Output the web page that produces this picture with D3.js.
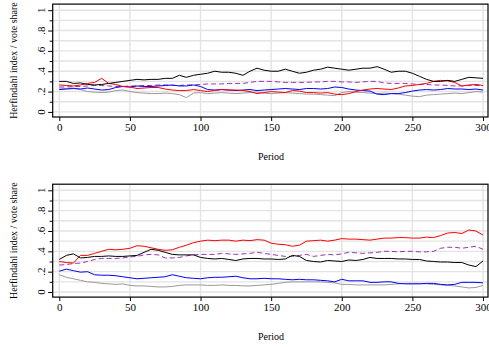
<!DOCTYPE html>
<html><head><meta charset="utf-8">
<script src="https://cdn.jsdelivr.net/npm/d3@7"></script>
<style>body{margin:0;background:#fff}svg{display:block}</style>
</head><body>
<svg id="c" width="489" height="347"></svg>
<script>
const periods = d3.range(0, 301, 5);
const yTickLabels = ["0", ".2", ".4", ".6", ".8", "1"];
const xTicks = [0, 50, 100, 150, 200, 250, 300];
const yTitle = "Herfindahl index / vote share";
const xTitle = "Period";

// Top panel
const topBlack = [.30,.30,.28,.285,.27,.265,.27,.28,.29,.30,.31,.32,.315,.32,.32,.33,.33,.36,.34,.36,.37,.38,.40,.39,.39,.38,.36,.40,.43,.41,.40,.40,.42,.40,.38,.39,.41,.42,.44,.43,.42,.41,.42,.43,.43,.445,.42,.39,.40,.40,.38,.35,.32,.30,.30,.31,.30,.32,.34,.335,.33];
const topRed = [.265,.26,.255,.265,.28,.29,.33,.28,.27,.25,.245,.23,.235,.24,.24,.225,.215,.21,.21,.22,.21,.20,.21,.22,.215,.215,.21,.20,.18,.19,.20,.195,.19,.21,.205,.19,.19,.185,.19,.175,.17,.18,.20,.215,.225,.23,.225,.22,.235,.255,.26,.27,.28,.30,.31,.305,.29,.255,.265,.27,.26];
const topBlue = [.22,.225,.23,.225,.235,.225,.215,.22,.24,.25,.245,.255,.25,.25,.255,.26,.265,.255,.255,.265,.25,.22,.215,.22,.215,.21,.215,.22,.21,.215,.22,.225,.23,.225,.22,.23,.23,.225,.23,.245,.24,.225,.215,.21,.205,.175,.17,.18,.18,.19,.205,.215,.22,.215,.22,.23,.225,.225,.22,.225,.215];
const topGray = [.235,.23,.235,.22,.20,.195,.19,.195,.21,.215,.20,.19,.185,.18,.18,.185,.18,.17,.14,.185,.19,.18,.185,.19,.185,.18,.185,.19,.195,.185,.18,.185,.19,.185,.18,.175,.175,.17,.165,.16,.19,.20,.195,.19,.185,.18,.185,.18,.175,.165,.155,.15,.165,.17,.175,.18,.185,.18,.19,.20,.195];
const topPurple = [.245,.245,.25,.25,.255,.26,.26,.255,.25,.25,.255,.255,.26,.26,.265,.265,.26,.26,.265,.265,.27,.275,.275,.275,.28,.28,.28,.29,.30,.30,.30,.295,.29,.29,.29,.29,.295,.295,.30,.30,.295,.295,.29,.295,.30,.30,.285,.28,.28,.28,.275,.27,.27,.265,.265,.26,.255,.255,.26,.26,.26];

// Bottom panel
const botRed = [.30,.29,.285,.36,.36,.38,.40,.42,.415,.42,.43,.455,.45,.435,.42,.41,.415,.44,.46,.485,.50,.51,.505,.51,.51,.50,.51,.505,.515,.51,.48,.47,.465,.45,.46,.50,.505,.51,.50,.51,.525,.52,.52,.515,.51,.52,.53,.53,.535,.535,.53,.53,.54,.535,.555,.58,.585,.575,.61,.60,.56];
const botBlack = [.32,.36,.375,.335,.34,.35,.35,.355,.35,.35,.355,.36,.39,.42,.41,.39,.37,.365,.365,.365,.34,.33,.325,.33,.32,.31,.325,.33,.33,.325,.325,.32,.325,.36,.35,.31,.30,.295,.31,.305,.30,.315,.31,.32,.34,.33,.33,.33,.325,.325,.32,.32,.305,.30,.295,.295,.29,.29,.265,.25,.305];
const botPurple = [.265,.27,.28,.285,.30,.32,.33,.33,.33,.335,.345,.35,.365,.37,.365,.335,.335,.34,.355,.365,.37,.37,.37,.38,.375,.37,.375,.38,.39,.38,.37,.36,.35,.35,.36,.37,.35,.36,.37,.365,.375,.39,.385,.38,.385,.39,.40,.40,.395,.40,.40,.395,.395,.40,.43,.44,.44,.43,.44,.45,.42];
const botBlue = [.205,.225,.21,.195,.20,.17,.165,.165,.16,.15,.14,.13,.135,.14,.145,.15,.17,.155,.14,.135,.13,.14,.145,.145,.15,.155,.14,.13,.13,.135,.13,.13,.125,.12,.125,.12,.12,.115,.11,.10,.125,.11,.11,.11,.095,.095,.10,.10,.085,.08,.08,.08,.085,.085,.075,.07,.075,.095,.095,.095,.09];
const botGray = [.17,.145,.13,.115,.10,.095,.085,.08,.075,.08,.065,.06,.06,.055,.05,.05,.055,.065,.07,.07,.07,.065,.065,.07,.065,.065,.06,.06,.065,.07,.075,.085,.095,.10,.10,.10,.10,.10,.095,.09,.075,.075,.07,.07,.07,.07,.07,.075,.08,.085,.085,.085,.08,.075,.07,.065,.06,.05,.04,.045,.065];

const svg = d3.select("#c");
const font = "Liberation Serif, Times New Roman, serif";
const x = d3.scaleLinear().domain([0, 300]).range([59.3, 483]);
const frameL = 52.7, frameR = 488;

function panel(top, bottom, series) {
  const y = d3.scaleLinear().domain([-0.05, 1.06]).range([bottom, top]);
  const g = svg.append("g");
  // grid
  const gridY = d3.range(0, 11).map(i => i / 10);
  g.selectAll(".gy").data(gridY).join("line")
    .attr("x1", frameL).attr("x2", frameR)
    .attr("y1", d => y(d)).attr("y2", d => y(d))
    .attr("stroke", "#e3e3e3").attr("stroke-width", 1.4);
  g.selectAll(".gx").data(xTicks).join("line")
    .attr("x1", d => x(d)).attr("x2", d => x(d))
    .attr("y1", top).attr("y2", bottom)
    .attr("stroke", "#e3e3e3").attr("stroke-width", 1.4);
  // series
  series.forEach(s => {
    const line = d3.line().x((d, i) => x(periods[i])).y(d => y(d));
    g.append("path").datum(s.v).attr("d", line)
      .attr("fill", "none").attr("stroke", s.c).attr("stroke-width", 1)
      .attr("stroke-dasharray", s.dash || null)
      .attr("stroke-linejoin", "round");
  });
  // frame
  g.append("rect").attr("x", frameL).attr("y", top)
    .attr("width", frameR - frameL).attr("height", bottom - top)
    .attr("fill", "none").attr("stroke", "#000").attr("stroke-width", 1.2);
  // y axis
  const yAxis = d3.axisLeft(y).tickValues(d3.range(0, 11).map(i => i / 10))
    .tickSize(4).tickFormat("");
  const ya = g.append("g").attr("transform", `translate(${frameL},0)`).call(yAxis);
  ya.select(".domain").remove();
  ya.selectAll(".tick line").attr("stroke", "#000").attr("stroke-width", 1)
    .attr("x2", (d, i) => i % 2 === 0 ? -4.5 : -3);
  g.selectAll(".ylab").data(yTickLabels).join("text")
    .attr("transform", (d, i) => `translate(${frameL - 8},${y(i * 0.2)}) rotate(-90)`)
    .attr("text-anchor", "middle").attr("font-family", font).attr("font-size", 11)
    .text(d => d);
  // x axis
  const xAxis = d3.axisBottom(x).tickValues(xTicks).tickSize(4).tickPadding(2);
  const xa = g.append("g").attr("transform", `translate(0,${bottom})`).call(xAxis);
  xa.select(".domain").remove();
  xa.selectAll(".tick line").attr("stroke", "#000");
  xa.selectAll(".tick text").attr("font-family", font).attr("font-size", 11).attr("fill", "#000");
  // titles
  g.append("text").attr("transform", `translate(17,${(top + bottom) / 2}) rotate(-90)`)
    .attr("text-anchor", "middle").attr("font-family", font).attr("font-size", 10)
    .text(yTitle);
  g.append("text").attr("x", 271).attr("y", bottom + 43)
    .attr("text-anchor", "middle").attr("font-family", font).attr("font-size", 10)
    .text(xTitle);
}

panel(4.1, 117, [
  {v: topPurple, c: "#9b30b8", dash: "5,3"},
  {v: topGray, c: "#999999"},
  {v: topBlue, c: "#0000ff"},
  {v: topRed, c: "#ff0000"},
  {v: topBlack, c: "#000000"}
]);
panel(184.2, 297.1, [
  {v: botPurple, c: "#9b30b8", dash: "5,3"},
  {v: botGray, c: "#999999"},
  {v: botBlue, c: "#0000ff"},
  {v: botRed, c: "#ff0000"},
  {v: botBlack, c: "#000000"}
]);
</script>
</body></html>
